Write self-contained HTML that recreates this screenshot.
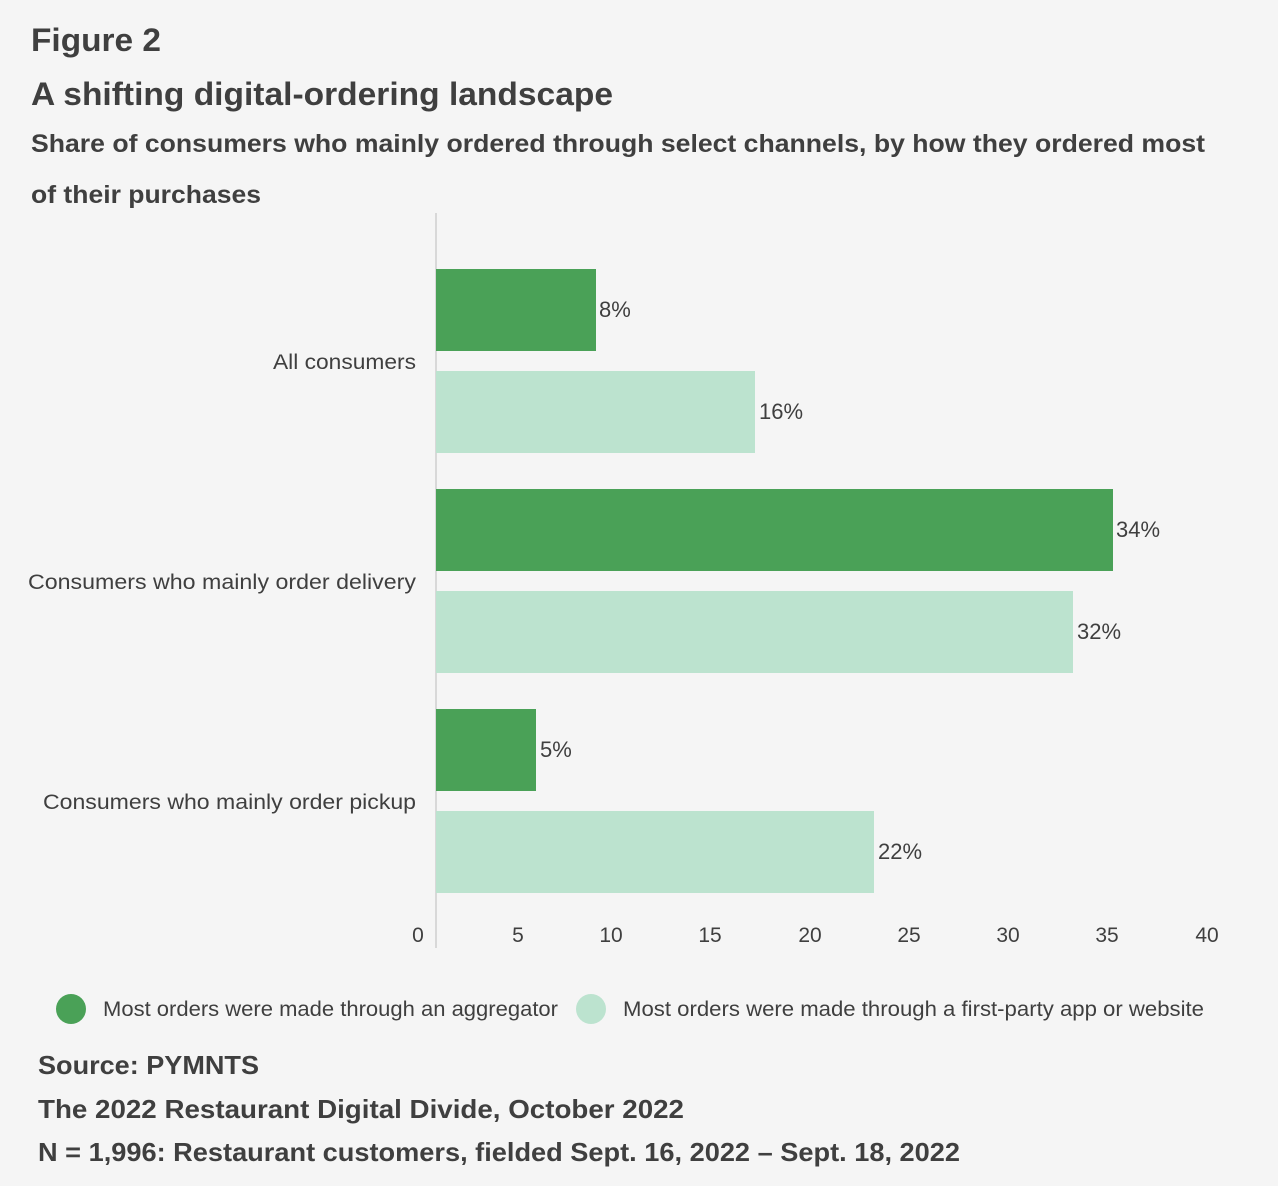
<!DOCTYPE html>
<html><head><meta charset="utf-8"><style>
html,body{margin:0;padding:0;background:#f5f5f5;}
svg{display:block;}
text{font-family:"Liberation Sans",sans-serif;fill:#3f3f3f;}
.b{font-weight:bold;}
</style></head><body>
<svg width="1278" height="1186" viewBox="0 0 1278 1186" xmlns="http://www.w3.org/2000/svg">
<rect width="1278" height="1186" fill="#f5f5f5"/>
<text x="31" y="51" class="b" font-size="32" textLength="130" lengthAdjust="spacingAndGlyphs">Figure 2</text>
<text x="31" y="105" class="b" font-size="32" textLength="582" lengthAdjust="spacingAndGlyphs">A shifting digital-ordering landscape</text>
<text x="31" y="152" class="b" font-size="25" textLength="1174" lengthAdjust="spacingAndGlyphs">Share of consumers who mainly ordered through select channels, by how they ordered most</text>
<text x="31" y="203" class="b" font-size="25" textLength="230" lengthAdjust="spacingAndGlyphs">of their purchases</text>
<line x1="436" y1="213" x2="436" y2="948" stroke="#cfcfcf" stroke-width="1.5"/>
<g fill="#4aa157">
<rect x="436" y="269" width="160" height="82"/>
<rect x="436" y="489" width="677" height="82"/>
<rect x="436" y="709" width="100" height="82"/>
</g>
<g fill="#bce3cf">
<rect x="436" y="371" width="319" height="82"/>
<rect x="436" y="591" width="637" height="82"/>
<rect x="436" y="811" width="438" height="82"/>
</g>
<g font-size="22">
<text x="599" y="317">8%</text>
<text x="759" y="419">16%</text>
<text x="1116" y="537">34%</text>
<text x="1077" y="639">32%</text>
<text x="540" y="757">5%</text>
<text x="878" y="859">22%</text>
</g>
<g font-size="21" text-anchor="end">
<text x="416" y="369" textLength="143" lengthAdjust="spacingAndGlyphs">All consumers</text>
<text x="416" y="589" textLength="388" lengthAdjust="spacingAndGlyphs">Consumers who mainly order delivery</text>
<text x="416" y="809" textLength="373" lengthAdjust="spacingAndGlyphs">Consumers who mainly order pickup</text>
</g>
<g font-size="21" text-anchor="middle">
<text x="418" y="942">0</text>
<text x="518" y="942">5</text>
<text x="611" y="942">10</text>
<text x="710" y="942">15</text>
<text x="810" y="942">20</text>
<text x="909" y="942">25</text>
<text x="1008" y="942">30</text>
<text x="1107" y="942">35</text>
<text x="1207" y="942">40</text>
</g>
<circle cx="71" cy="1009" r="15" fill="#4aa157"/>
<text x="103" y="1016" font-size="21" textLength="455" lengthAdjust="spacingAndGlyphs">Most orders were made through an aggregator</text>
<circle cx="591" cy="1009" r="15" fill="#bce3cf"/>
<text x="623" y="1016" font-size="21" textLength="581" lengthAdjust="spacingAndGlyphs">Most orders were made through a first-party app or website</text>
<text x="38" y="1074" class="b" font-size="26" textLength="221" lengthAdjust="spacingAndGlyphs">Source: PYMNTS</text>
<text x="38" y="1118" class="b" font-size="26" textLength="646" lengthAdjust="spacingAndGlyphs">The 2022 Restaurant Digital Divide, October 2022</text>
<text x="38" y="1161" class="b" font-size="26" textLength="922" lengthAdjust="spacingAndGlyphs">N = 1,996: Restaurant customers, fielded Sept. 16, 2022 – Sept. 18, 2022</text>
</svg>
</body></html>
